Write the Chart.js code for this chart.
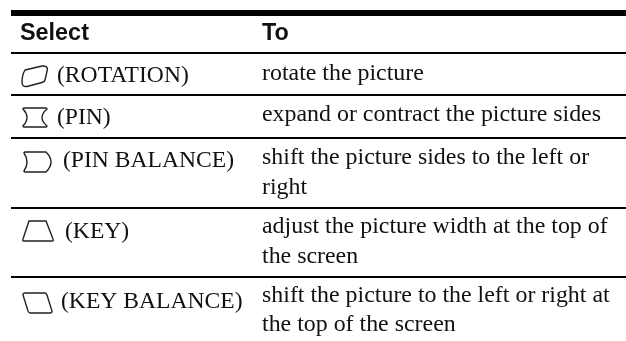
<!DOCTYPE html>
<html>
<head>
<meta charset="utf-8">
<title>Select / To</title>
<script src="https://cdn.jsdelivr.net/npm/chart.js@4"></script>
<style>
  html, body { margin:0; padding:0; background:#fff; }
  canvas { display:block; }
</style>
</head>
<body>
<canvas id="tableChart" width="626" height="341"></canvas>
<script>
// the table content
const headers = ['Select', 'To'];
const selectLabels = ['(ROTATION)', '(PIN)', '(PIN BALANCE)', '(KEY)', '(KEY BALANCE)'];
const toLines = [
  ['rotate the picture'],
  ['expand or contract the picture sides'],
  ['shift the picture sides to the left or', 'right'],
  ['adjust the picture width at the top of', 'the screen'],
  ['shift the picture to the left or right at', 'the top of the screen']
];

// where things sit, in page pixels (the axes run 11..626 and 0..341)
const ruleRows = [13, 53, 95, 138, 208, 277];
const headerBaseline = 40;
const selectBaselines = [82, 124, 167, 238, 308];
const toBaselines = [[80], [121], [164, 194], [233, 263], [302, 331]];
const selectX = [57, 57, 63, 65, 61];
const selectTextX = 20;
const toX = 262;

// icon outlines, one path per row, relative to the icon's top-left corner
const iconAt = [[22, 66], [22, 108], [23, 152], [22, 221], [23, 293]];
const iconPaths = [
  'M3 4 L20 0 Q25 -0.5 25.5 3 L23 14 Q22.5 16 20 16.5 L5 20.5 Q0.5 21 0 17 Q0 9 3 4 Z',
  'M2 0 L24 0 Q25 0 25 1 Q15 9.5 25 18 Q25 19 24 19 L2 19 Q1 19 1 18 Q9 9.5 1 1 Q1 0 2 0 Z',
  'M2 0 L23 0 Q33 10 23 20 L2 20 Q1 20 1 19 Q7 10 1 1 Q1 0 2 0 Z',
  'M7 0 L24 0 L31 18 Q32 20 30 20 L2 20 Q0 20 1 18 Z',
  'M2 0 L22 0 Q23 0 24 2 L29 18 Q29 20 27 20 L7 20 Q6 20 5 18 L0 2 Q0 0 2 0 Z'
];

const textColor = '#111';
const selectFont = '23.6px "Liberation Serif"';
const toFont = '23.9px "Liberation Serif"';
const headFont = 'bold 23.4px "Liberation Sans"';

const tableText = {
  id:'tableText',
  afterDatasetsDraw(chart){
    const {ctx, scales:{x, y}} = chart;
    ctx.save();
    ctx.fillStyle = textColor;
    ctx.textAlign = 'left';
    ctx.textBaseline = 'alphabetic';

    ctx.font = headFont;
    ctx.fillText(headers[0], x.getPixelForValue(selectTextX), y.getPixelForValue(headerBaseline));
    ctx.fillText(headers[1], x.getPixelForValue(toX), y.getPixelForValue(headerBaseline));

    selectLabels.forEach((label, i)=>{
      ctx.font = selectFont;
      ctx.fillText(label, x.getPixelForValue(selectX[i]), y.getPixelForValue(selectBaselines[i]));
      ctx.font = toFont;
      toLines[i].forEach((line, j)=>{
        ctx.fillText(line, x.getPixelForValue(toX), y.getPixelForValue(toBaselines[i][j]));
      });
    });

    // the little screen-shape icons
    ctx.strokeStyle = '#222';
    ctx.lineWidth = 1.4;
    iconPaths.forEach((p, i)=>{
      ctx.save();
      ctx.translate(x.getPixelForValue(iconAt[i][0]), y.getPixelForValue(iconAt[i][1]));
      ctx.stroke(new Path2D(p));
      ctx.restore();
    });
    ctx.restore();
  }
};

new Chart(document.getElementById('tableChart').getContext('2d'), {
  type:'scatter',
  data:{ datasets:[{ data:[], pointRadius:0 }] },
  plugins:[tableText],
  options:{
    responsive:false,
    animation:false,
    layout:{ padding:{ left:11 } },
    plugins:{ legend:{ display:false }, tooltip:{ enabled:false } },
    scales:{
      x:{ type:'linear', min:11, max:626, display:false },
      y:{
        type:'linear', min:0, max:341, reverse:true,
        afterBuildTicks(axis){ axis.ticks = ruleRows.map(v=>({ value:v })); },
        border:{ display:false },
        ticks:{ display:false },
        grid:{
          drawTicks:false,
          color:'#000',
          lineWidth:(c)=> c.index === 0 ? 6 : 2
        }
      }
    }
  }
});
</script>
</body>
</html>
